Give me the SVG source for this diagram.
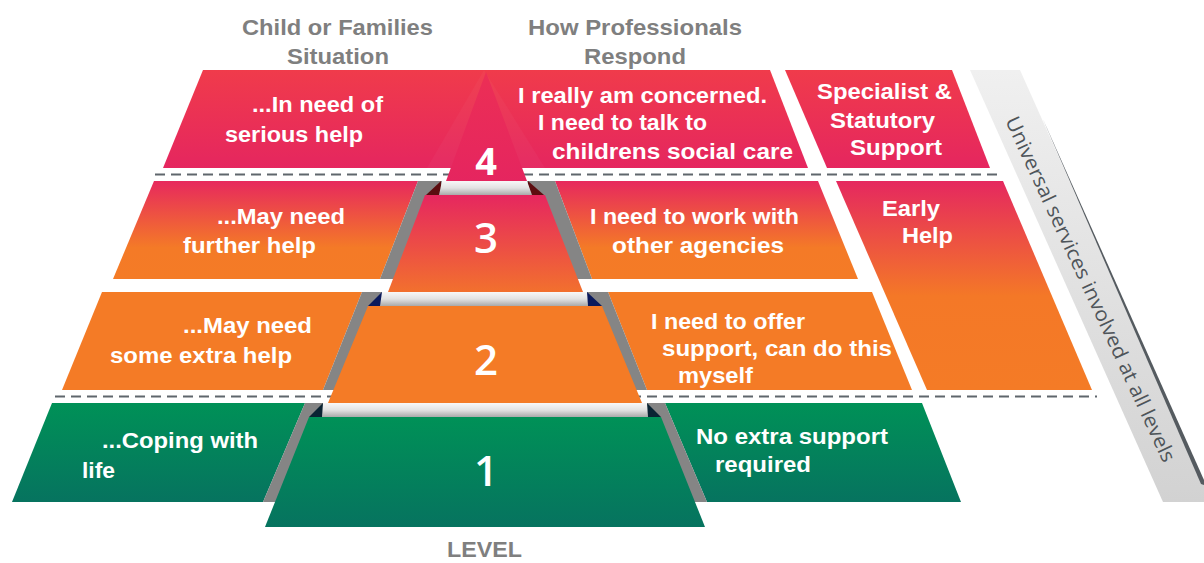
<svg xmlns="http://www.w3.org/2000/svg" width="1204" height="563" viewBox="0 0 1204 563">
<defs>
<linearGradient id="gPink" x1="0" y1="0" x2="0" y2="1"><stop offset="0" stop-color="#f03b4b"/><stop offset="1" stop-color="#e5265f"/></linearGradient>
<linearGradient id="gPink4" x1="0" y1="0" x2="0" y2="1"><stop offset="0" stop-color="#ec2f55"/><stop offset="1" stop-color="#e5255f"/></linearGradient>
<linearGradient id="gRow3" x1="0" y1="0" x2="0" y2="1"><stop offset="0" stop-color="#e7295d"/><stop offset="0.68" stop-color="#f47a27"/><stop offset="1" stop-color="#f47b26"/></linearGradient>
<linearGradient id="gPiece3" x1="0" y1="0" x2="0" y2="1"><stop offset="0" stop-color="#e6275f"/><stop offset="1" stop-color="#f2702e"/></linearGradient>
<linearGradient id="gEarly" x1="0" y1="0" x2="0" y2="1"><stop offset="0" stop-color="#e5285f"/><stop offset="0.55" stop-color="#f47827"/><stop offset="1" stop-color="#f47b26"/></linearGradient>
<linearGradient id="gGreen" x1="0" y1="0" x2="0" y2="1"><stop offset="0" stop-color="#009157"/><stop offset="1" stop-color="#06735f"/></linearGradient>
<linearGradient id="gBar" x1="0" y1="0" x2="0" y2="1"><stop offset="0" stop-color="#f8f8f8"/><stop offset="0.5" stop-color="#e2e2e2"/><stop offset="1" stop-color="#a9a9a9"/></linearGradient>
<linearGradient id="gUni" x1="0" y1="0" x2="0" y2="1"><stop offset="0" stop-color="#f0f0f0"/><stop offset="1" stop-color="#d2d2d2"/></linearGradient>
<style>
.lbl{font-family:"Liberation Sans",Arial,sans-serif;font-weight:bold;font-size:22.5px;fill:#ffffff}
.hdr{font-family:"Liberation Sans",Arial,sans-serif;font-weight:bold;font-size:22px;fill:#7f7f7f}
.num{font-family:"Open Sans","DejaVu Sans",sans-serif;font-weight:600;font-size:42px;fill:#ffffff;text-anchor:middle}
.uni{font-family:"Open Sans","DejaVu Sans",sans-serif;font-size:20px;fill:#4e5459}
.grey{fill:#858585}
.bar{fill:url(#gBar)}
.sep{stroke:#5f666c;stroke-width:2;stroke-dasharray:10 6;fill:none}
</style>
</defs>
<rect width="1204" height="563" fill="#ffffff"/>

<g id="headers">
<text class="hdr" x="242" y="35" textLength="191" lengthAdjust="spacingAndGlyphs">Child or Families</text>
<text class="hdr" x="287" y="64" textLength="102" lengthAdjust="spacingAndGlyphs">Situation</text>
<text class="hdr" x="528" y="35" textLength="214" lengthAdjust="spacingAndGlyphs">How Professionals</text>
<text class="hdr" x="584" y="64" textLength="102" lengthAdjust="spacingAndGlyphs">Respond</text>
</g>

<g id="universal">
<polygon points="970,70 1020,70 1204,482 1204,502 1163,502" fill="url(#gUni)"/>
<polygon points="1042,117 1204,480 1204,485 1201,484" fill="#555b60"/>
<text class="uni" x="1091" y="289" text-anchor="middle" dominant-baseline="central" textLength="378" lengthAdjust="spacingAndGlyphs" transform="rotate(65.2 1091 289)">Universal services involved at all levels</text>
</g>

<g id="row4">
<polygon points="203,70 770,70 808,168 163,168" fill="url(#gPink)"/>
<polygon points="484,70 545,168 427,168" fill="#ffffff" opacity="0.03"/>
<text class="lbl" x="252" y="112" textLength="131" lengthAdjust="spacingAndGlyphs">...In need of</text>
<text class="lbl" x="225" y="142" textLength="138" lengthAdjust="spacingAndGlyphs">serious help</text>
<text class="lbl" x="518" y="103" textLength="249" lengthAdjust="spacingAndGlyphs">I really am concerned.</text>
<text class="lbl" x="538" y="130" textLength="169" lengthAdjust="spacingAndGlyphs">I need to talk to</text>
<text class="lbl" x="552" y="159" textLength="241" lengthAdjust="spacingAndGlyphs">childrens social care</text>
</g>

<g id="specialist">
<polygon points="785,70 952,70 990,168 827,168" fill="url(#gPink)"/>
<text class="lbl" x="817" y="99" textLength="135" lengthAdjust="spacingAndGlyphs">Specialist &amp;</text>
<text class="lbl" x="830" y="128" textLength="105" lengthAdjust="spacingAndGlyphs">Statutory</text>
<text class="lbl" x="850" y="155" textLength="92" lengthAdjust="spacingAndGlyphs">Support</text>
</g>

<g id="row3">
<polygon points="154,181 418,181 380,279 113,279" fill="url(#gRow3)"/>
<polygon points="555,181 818,181 858,279 592,279" fill="url(#gRow3)"/>
<text class="lbl" x="217" y="224" textLength="128" lengthAdjust="spacingAndGlyphs">...May need</text>
<text class="lbl" x="183" y="253" textLength="133" lengthAdjust="spacingAndGlyphs">further help</text>
<text class="lbl" x="590" y="224" textLength="209" lengthAdjust="spacingAndGlyphs">I need to work with</text>
<text class="lbl" x="612" y="253" textLength="172" lengthAdjust="spacingAndGlyphs">other agencies</text>
</g>

<g id="earlyhelp">
<polygon points="836,181 1003,181 1092,390 927,390" fill="url(#gEarly)"/>
<text class="lbl" x="882" y="216" textLength="58" lengthAdjust="spacingAndGlyphs">Early</text>
<text class="lbl" x="902" y="243" textLength="51" lengthAdjust="spacingAndGlyphs">Help</text>
</g>

<g id="row2">
<polygon points="102,292 362,292 323,390 62,390" fill="#f47b26"/>
<polygon points="608,292 872,292 912,390 647,390" fill="#f47b26"/>
<text class="lbl" x="183" y="333" textLength="129" lengthAdjust="spacingAndGlyphs">...May need</text>
<text class="lbl" x="110" y="363" textLength="182" lengthAdjust="spacingAndGlyphs">some extra help</text>
<text class="lbl" x="651" y="329" textLength="154" lengthAdjust="spacingAndGlyphs">I need to offer</text>
<text class="lbl" x="662" y="356" textLength="230" lengthAdjust="spacingAndGlyphs">support, can do this</text>
<text class="lbl" x="678" y="383" textLength="75" lengthAdjust="spacingAndGlyphs">myself</text>
</g>

<g id="row1">
<polygon points="52,403 305,403 263,502 12,502" fill="url(#gGreen)"/>
<polygon points="665,403 922,403 961,502 707,502" fill="url(#gGreen)"/>
<text class="lbl" x="102" y="448" textLength="156" lengthAdjust="spacingAndGlyphs">...Coping with</text>
<text class="lbl" x="82" y="478" textLength="33" lengthAdjust="spacingAndGlyphs">life</text>
<text class="lbl" x="696" y="444" textLength="192" lengthAdjust="spacingAndGlyphs">No extra support</text>
<text class="lbl" x="715" y="472" textLength="96" lengthAdjust="spacingAndGlyphs">required</text>
</g>

<g id="connectors">
<line class="sep" x1="155" y1="174.5" x2="1000" y2="174.5"/>
<line class="sep" x1="55" y1="396.5" x2="1097" y2="396.5"/>
</g>

<g id="pyramid">
<g id="level1">
<polygon class="grey" points="305,403 665,403 707,502 263,502"/>
<polygon points="323,403 309,417 323,417" fill="#0a2433"/>
<polygon points="647,403 661,417 647,417" fill="#0a2433"/>
<polygon class="bar" points="323,403 647,403 648,417 322,417"/>
<polygon points="309,417 661,417 705,527 265,527" fill="url(#gGreen)"/>
<text class="num" x="486" y="486">1</text>
</g>
<g id="level2">
<polygon class="grey" points="362,292 608,292 647,390 323,390"/>
<polygon points="382,292 368,306 382,306" fill="#0b1a5c"/>
<polygon points="587,292 602,306 587,306" fill="#0b1a5c"/>
<polygon class="bar" points="382,292 587,292 588,306 380,306"/>
<polygon points="368,306 602,306 642,403 328,403" fill="#f47b26"/>
<text class="num" x="486" y="375">2</text>
</g>
<g id="level3">
<polygon class="grey" points="418,181 555,181 592,279 380,279"/>
<polygon points="441,181 426,195 441,195" fill="#5c0d10"/>
<polygon points="528,181 544,195 528,195" fill="#5c0d10"/>
<polygon class="bar" points="442,181 527,181 532,195 439,195"/>
<polygon points="425,195 545,195 583,292 388,292" fill="url(#gPiece3)"/>
<text class="num" x="486" y="253">3</text>
</g>
<g id="level4">
<polygon points="486,72 527,181 446,181" fill="url(#gPink4)"/>
<text class="num" x="486" y="175" style="font-weight:700;font-size:38px">4</text>
</g>
</g>

<g id="level-label">
<text class="hdr" x="447" y="557" textLength="75" lengthAdjust="spacingAndGlyphs">LEVEL</text>
</g>
</svg>
